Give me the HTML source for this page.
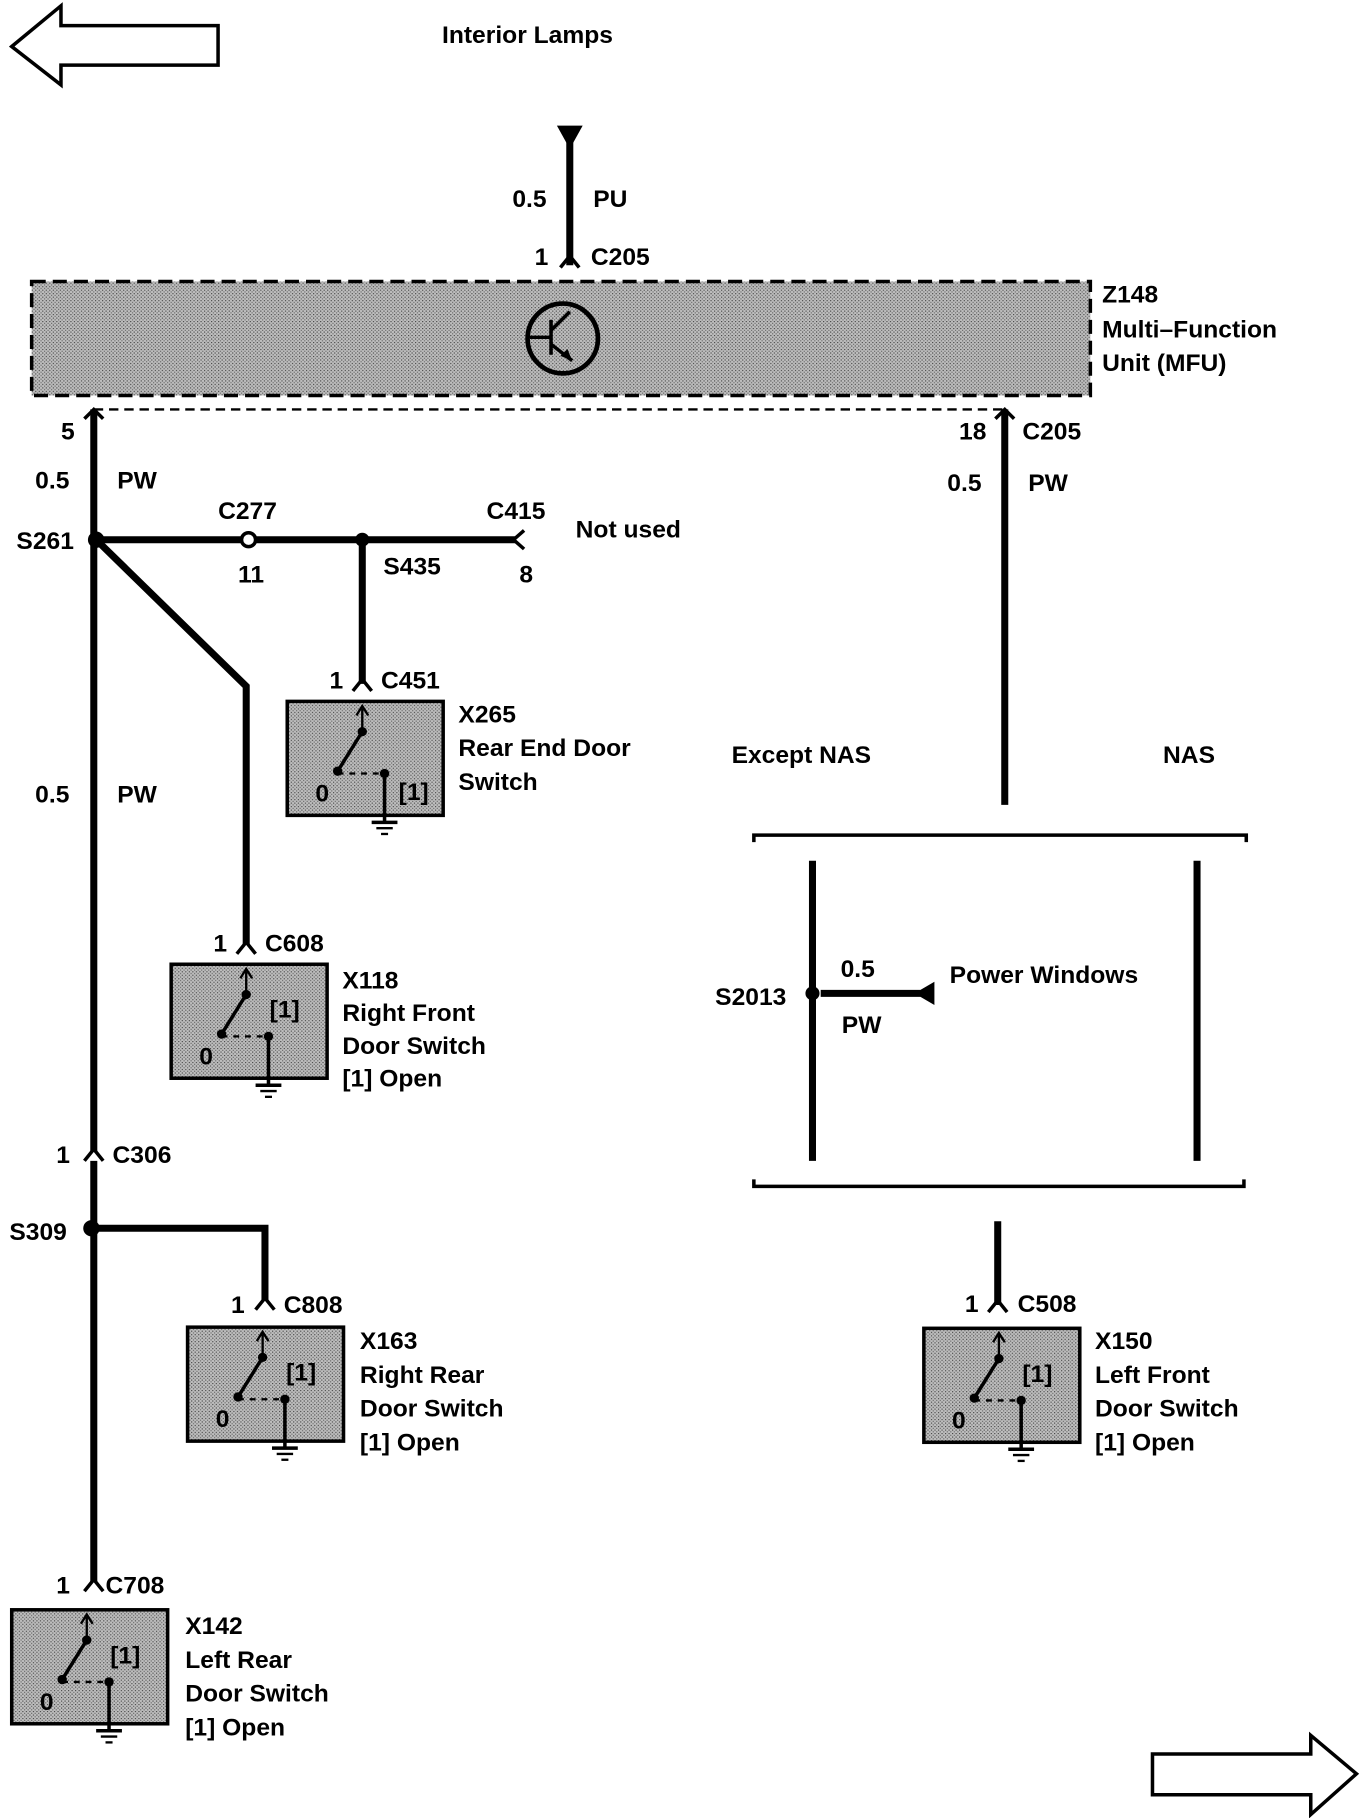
<!DOCTYPE html>
<html><head><style>
html,body{margin:0;padding:0;background:#fff;}
svg{display:block;}
text{font-family:"Liberation Sans",sans-serif;font-weight:bold;font-size:21px;fill:#000;}
</style></head><body>
<svg width="1360" height="1818" viewBox="0 0 1160 1563" preserveAspectRatio="none" xmlns="http://www.w3.org/2000/svg">
<defs>
<pattern id="dots" width="3" height="3" patternUnits="userSpaceOnUse">
<rect width="3" height="3" fill="#bdbdbd"/><rect width="1" height="1" fill="#444"/><rect x="1.5" y="1.5" width="1" height="1" fill="#666"/>
</pattern>
<g id="swb">
<rect x="0" y="0" width="133" height="98" fill="url(#dots)" stroke="#000" stroke-width="3"/>
<line x1="64" y1="6" x2="64" y2="26" stroke="#000" stroke-width="2"/>
<path d="M59,12 L64,4 L69,12" fill="none" stroke="#000" stroke-width="2"/>
<circle cx="64" cy="26" r="4"/>
<line x1="64" y1="26" x2="43" y2="60" stroke="#000" stroke-width="3"/>
<circle cx="43" cy="60" r="4"/>
<line x1="43" y1="62" x2="83" y2="62" stroke="#000" stroke-width="2" stroke-dasharray="5,5"/>
<circle cx="83" cy="62" r="4"/>
<line x1="83" y1="62" x2="83" y2="104" stroke="#000" stroke-width="3"/>
<line x1="72" y1="104" x2="94" y2="104" stroke="#000" stroke-width="3"/>
<line x1="76" y1="109" x2="90" y2="109" stroke="#000" stroke-width="2"/>
<line x1="80" y1="114" x2="86" y2="114" stroke="#000" stroke-width="2"/>
<text x="24" y="86">0</text>
</g>
<g id="sw"><use href="#swb"/><text x="84" y="46">[1]</text></g>
</defs>

<polygon points="10,40 52,5 52,22 186,22 186,56 52,56 52,73" fill="#fff" stroke="#000" stroke-width="3"/>
<polygon points="1157,1525 1118,1492 1118,1508 983,1508 983,1543 1118,1543 1118,1560" fill="#fff" stroke="#000" stroke-width="3"/>
<text x="377" y="37">Interior Lamps</text>

<line x1="486" y1="112" x2="486" y2="228" stroke="#000" stroke-width="6"/>
<polygon points="475,108 497,108 486,128"/>
<path d="M478,230 L486,220 L494,230" fill="none" stroke="#000" stroke-width="3"/>
<text x="437" y="178">0.5</text><text x="506" y="178">PU</text>
<text x="456" y="228">1</text><text x="504" y="228">C205</text>

<rect x="27" y="242" width="903" height="98" fill="url(#dots)" stroke="#000" stroke-width="3" stroke-dasharray="12,6"/>
<circle cx="480" cy="291" r="30" fill="none" stroke="#000" stroke-width="4"/>
<line x1="470" y1="275" x2="470" y2="305" stroke="#000" stroke-width="3"/>
<line x1="452" y1="290" x2="470" y2="290" stroke="#000" stroke-width="3"/>
<line x1="470" y1="284" x2="486" y2="268" stroke="#000" stroke-width="3"/>
<line x1="470" y1="296" x2="488" y2="310" stroke="#000" stroke-width="3"/>
<polygon points="488,310 478,306 484,300"/>
<text x="940" y="260">Z148</text><text x="940" y="290">Multi–Function</text><text x="940" y="319">Unit (MFU)</text>
<line x1="80" y1="352" x2="860" y2="352" stroke="#000" stroke-width="2" stroke-dasharray="8,5"/>

<line x1="80" y1="352" x2="80" y2="1360" stroke="#000" stroke-width="6"/>
<path d="M72,360 L80,352 L88,360" fill="none" stroke="#000" stroke-width="3"/>
<text x="52" y="378">5</text><text x="30" y="420">0.5</text><text x="100" y="420">PW</text>
<circle cx="82" cy="464" r="7"/><text x="14" y="472">S261</text>
<line x1="82" y1="464" x2="440" y2="464" stroke="#000" stroke-width="6"/>
<circle cx="212" cy="464" r="6" fill="#fff" stroke="#000" stroke-width="3"/>
<text x="186" y="446">C277</text><text x="203" y="501">11</text>
<circle cx="309" cy="464" r="6"/><text x="327" y="494">S435</text>
<path d="M447,456 L438,464 L447,472" fill="none" stroke="#000" stroke-width="3"/>
<text x="415" y="446">C415</text><text x="443" y="501">8</text><text x="491" y="462">Not used</text>
<line x1="309" y1="464" x2="309" y2="588" stroke="#000" stroke-width="6"/>
<path d="M301,594 L309,584 L317,594" fill="none" stroke="#000" stroke-width="3"/>
<text x="281" y="592">1</text><text x="325" y="592">C451</text>
<use href="#swb" x="245" y="603"/>
<text x="340" y="688">[1]</text>
<text x="391" y="621">X265</text><text x="391" y="650">Rear End Door</text><text x="391" y="679">Switch</text>

<polyline points="82,464 210,590 210,812" fill="none" stroke="#000" stroke-width="6"/>
<path d="M202,820 L210,810 L218,820" fill="none" stroke="#000" stroke-width="3"/>
<text x="182" y="818">1</text><text x="226" y="818">C608</text>
<use href="#sw" x="146" y="829"/>
<text x="292" y="850">X118</text><text x="292" y="878">Right Front</text><text x="292" y="906">Door Switch</text><text x="292" y="934">[1]   Open</text>
<text x="30" y="690">0.5</text><text x="100" y="690">PW</text>

<path d="M72,998 L80,988 L88,998" fill="#fff" stroke="#000" stroke-width="3"/>
<text x="48" y="1000">1</text><text x="96" y="1000">C306</text>
<circle cx="78" cy="1056" r="7"/><text x="8" y="1066">S309</text>
<polyline points="78,1056 226,1056 226,1118" fill="none" stroke="#000" stroke-width="6"/>
<path d="M218,1126 L226,1116 L234,1126" fill="none" stroke="#000" stroke-width="3"/>
<text x="197" y="1129">1</text><text x="242" y="1129">C808</text>
<use href="#sw" x="160" y="1141"/>
<text x="307" y="1160">X163</text><text x="307" y="1189">Right Rear</text><text x="307" y="1218">Door Switch</text><text x="307" y="1247">[1]   Open</text>

<path d="M72,1368 L80,1358 L88,1368" fill="none" stroke="#000" stroke-width="3"/>
<text x="48" y="1370">1</text><text x="90" y="1370">C708</text>
<use href="#sw" x="10" y="1384"/>
<text x="158" y="1405">X142</text><text x="158" y="1434">Left Rear</text><text x="158" y="1463">Door Switch</text><text x="158" y="1492">[1]   Open</text>

<line x1="857" y1="352" x2="857" y2="692" stroke="#000" stroke-width="6"/>
<path d="M849,360 L857,352 L865,360" fill="none" stroke="#000" stroke-width="3"/>
<text x="818" y="378">18</text><text x="872" y="378">C205</text>
<text x="808" y="422">0.5</text><text x="877" y="422">PW</text>
<text x="624" y="656">Except NAS</text><text x="992" y="656">NAS</text>
<path d="M643,724 L643,718 L1063,718 L1063,724" fill="none" stroke="#000" stroke-width="3"/>
<line x1="693" y1="740" x2="693" y2="998" stroke="#000" stroke-width="6"/>
<line x1="1021" y1="740" x2="1021" y2="998" stroke="#000" stroke-width="6"/>
<circle cx="693" cy="854" r="6"/><text x="610" y="864">S2013</text>
<line x1="700" y1="854" x2="785" y2="854" stroke="#000" stroke-width="6"/>
<polygon points="780,854 797,844 797,864"/>
<text x="717" y="840">0.5</text><text x="718" y="888">PW</text><text x="810" y="845">Power Windows</text>
<path d="M643,1014 L643,1020 L1061,1020 L1061,1014" fill="none" stroke="#000" stroke-width="3"/>
<line x1="851" y1="1050" x2="851" y2="1122" stroke="#000" stroke-width="6"/>
<path d="M843,1128 L851,1118 L859,1128" fill="none" stroke="#000" stroke-width="3"/>
<text x="823" y="1128">1</text><text x="868" y="1128">C508</text>
<use href="#sw" x="788" y="1142"/>
<text x="934" y="1160">X150</text><text x="934" y="1189">Left Front</text><text x="934" y="1218">Door Switch</text><text x="934" y="1247">[1]   Open</text>
</svg>
</body></html>
